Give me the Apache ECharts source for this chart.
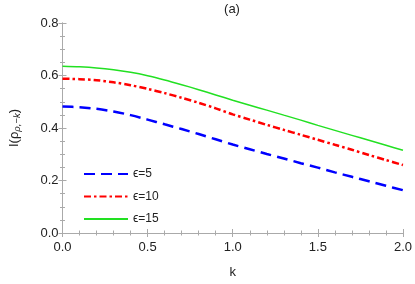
<!DOCTYPE html>
<html><head><meta charset="utf-8">
<script src="https://cdn.jsdelivr.net/npm/echarts@6/dist/echarts.min.js"></script>
<style>html,body{margin:0;padding:0;background:#fff}#c{width:415px;height:284px}</style>
</head><body><div id="c"></div>
<script>
const kValues = [0, 0.1, 0.2, 0.3, 0.4, 0.5, 0.6, 0.7, 0.8, 0.9, 1.0, 1.1, 1.2, 1.3, 1.4, 1.5, 1.6, 1.7, 1.8, 1.9, 2.0];
const eps5 = [0.482, 0.479, 0.473, 0.463, 0.449, 0.432, 0.414, 0.396, 0.377, 0.357, 0.337, 0.319, 0.301, 0.284, 0.266, 0.249, 0.231, 0.214, 0.197, 0.180, 0.163];
const eps10 = [0.588, 0.586, 0.582, 0.574, 0.563, 0.549, 0.533, 0.515, 0.496, 0.475, 0.452, 0.432, 0.412, 0.393, 0.374, 0.355, 0.336, 0.317, 0.297, 0.278, 0.259];
const eps15 = [0.635, 0.633, 0.629, 0.622, 0.612, 0.599, 0.583, 0.565, 0.546, 0.526, 0.506, 0.487, 0.468, 0.449, 0.430, 0.410, 0.391, 0.372, 0.353, 0.334, 0.315];
const seriesNames = ['ϵ=5', 'ϵ=10', 'ϵ=15'];
const xTicks = [0, 0.5, 1.0, 1.5, 2.0];
const yTicks = [0, 0.2, 0.4, 0.6, 0.8];

const frameColor = '#aaaaaa';
const font = 'Liberation Sans, Arial';
const labelStyle = {color: '#222', fontSize: 13, fontFamily: font};
function pairs(v){ return kValues.map((k,i)=>[k, v[i]]); }
function xAxis(show, pos){
  return {type:'value', min:0, max:2, interval:0.5, position:pos,
    axisLine:{show:true, lineStyle:{color:frameColor}},
    axisTick:{show:true, inside:true, length:4, lineStyle:{color:frameColor}},
    minorTick:{show:true, splitNumber:5, length:2.5, lineStyle:{color:frameColor}},
    splitLine:{show:false},
    axisLabel:{show:show, ...labelStyle, margin:8, formatter:v=>v.toFixed(1)},
    name: show ? 'k' : '', nameLocation:'middle', nameGap:33,
    nameTextStyle:{...labelStyle}};
}
function yAxis(show, pos){
  return {type:'value', min:0, max:0.8, interval:0.2, position:pos,
    axisLine:{show:true, lineStyle:{color:frameColor}},
    axisTick:{show:true, inside:true, length:4, lineStyle:{color:frameColor}},
    minorTick:{show:true, splitNumber:4, length:2.5, lineStyle:{color:frameColor}},
    splitLine:{show:false},
    axisLabel:{show:show, ...labelStyle, margin:4, formatter:v=>v.toFixed(1)},
    name: show ? '{a|I(ρ}{s|ρ,−k}{a|)}' : '', nameLocation:'middle', nameGap:40,
    nameTextStyle:{rich:{a:{fontSize:13, color:'#222', fontFamily:font},
      s:{fontSize:9.5, color:'#222', fontStyle:'italic', fontFamily:font, verticalAlign:'bottom', padding:[6,0,0,0]}}}};
}
const chart = echarts.init(document.getElementById('c'), null, {renderer:'canvas'});
chart.setOption({
  animation:false,
  title:{text:'(a)', left:227, top:-2, textAlign:'center', textStyle:{fontSize:13, fontWeight:'normal', color:'#222', fontFamily:font}},
  grid:{left:49, right:10, top:23, bottom:46},
  xAxis:[xAxis(true,'bottom'), xAxis(false,'top')],
  yAxis:[yAxis(true,'left'), yAxis(false,'right')],
  legend:{orient:'vertical', left:78, top:163, itemWidth:44, itemHeight:14, itemGap:10.5,
    itemStyle:{opacity:0},
    textStyle:{fontSize:12, color:'#222', fontFamily:font},
    data:seriesNames},
  series:[
    {name:seriesNames[0], type:'line', smooth:0.3, symbol:'none', data:pairs(eps5),
     lineStyle:{color:'#0000ff', width:2.5, type:[11,6]}, itemStyle:{color:'#0000ff'}},
    {name:seriesNames[1], type:'line', smooth:0.3, symbol:'none', data:pairs(eps10),
     lineStyle:{color:'#ff0000', width:2.5, type:[7,3,2.5,3]}, itemStyle:{color:'#ff0000'}},
    {name:seriesNames[2], type:'line', smooth:0.3, symbol:'none', data:pairs(eps15),
     lineStyle:{color:'#22e022', width:1.5}, itemStyle:{color:'#22e022'}}
  ]
});
</script></body></html>
